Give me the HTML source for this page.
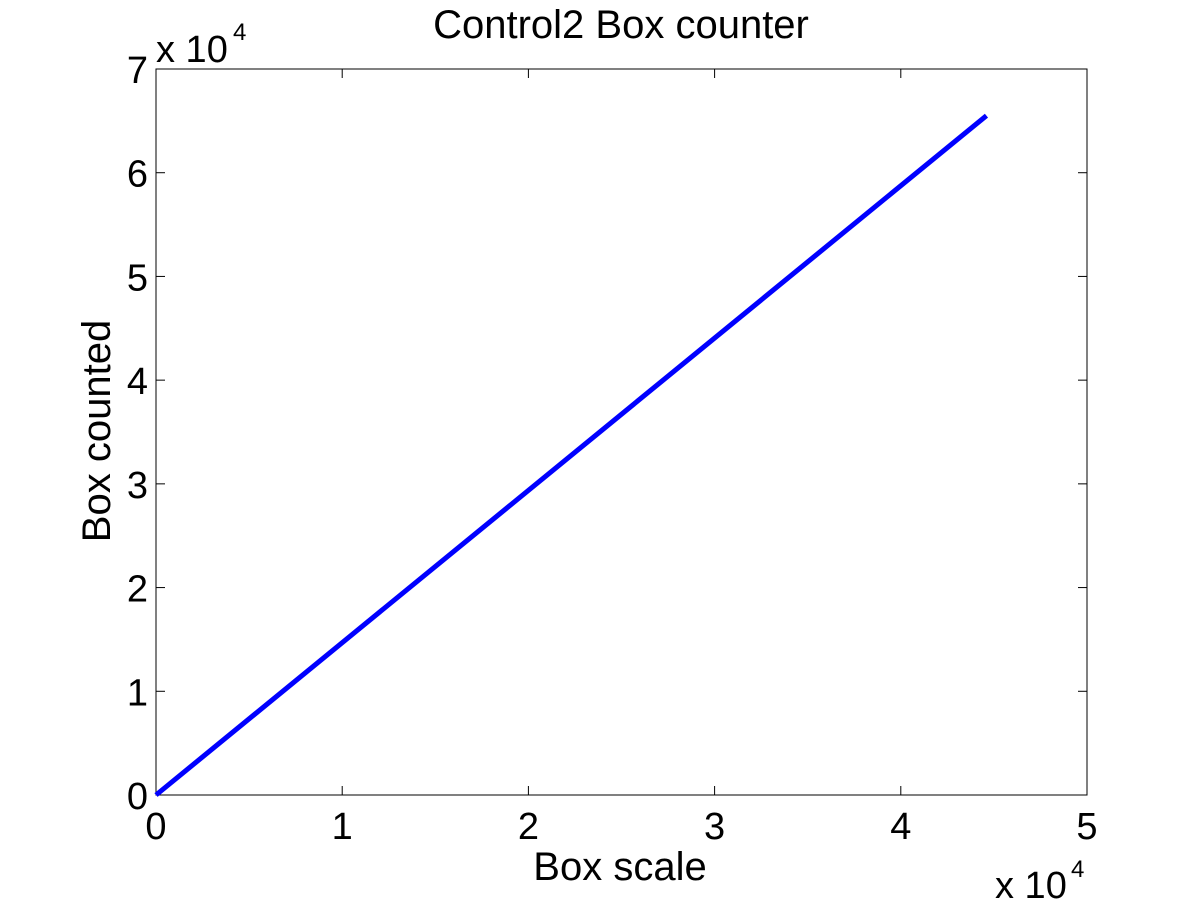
<!DOCTYPE html>
<html><head><meta charset="utf-8"><style>
body{margin:0;background:#fff}
svg text{font-family:"Liberation Sans",Arial,sans-serif;fill:#000}
</style></head><body>
<svg width="1201" height="901">
<rect x="0" y="0" width="1201" height="901" fill="#fff"/>
<g id="g"></g>
</svg>
<script>
const xTicks=[0,1,2,3,4,5];
const yTicks=[0,1,2,3,4,5,6,7];
const xVals=[0,4.46];
const yVals=[0,6.55];
const L=156,R=1087,T=69,B=795;
const sx=v=>L+(v-0)/(5-0)*(R-L);
const sy=v=>B-(v-0)/(7-0)*(B-T);
const g=document.getElementById('g');
const NS='http://www.w3.org/2000/svg';
function mk(t,a,txt){const e=document.createElementNS(NS,t);for(const k in a)e.setAttribute(k,a[k]);if(txt!==undefined)e.textContent=txt;g.appendChild(e);return e;}
let box=mk('rect',{x:L,y:T,width:R-L,height:B-T,fill:'none',stroke:'#000','stroke-width':1});


xTicks.forEach(v=>{const x=sx(v);
 let t1=mk('line',{x1:x,y1:B,x2:x,y2:B-9,stroke:'#000'});
 let t2=mk('line',{x1:x,y1:T,x2:x,y2:T+9,stroke:'#000'});
 let l=mk('text',{x:x,y:B+44,'font-size':38,'text-anchor':'middle'},String(v));});
yTicks.forEach(v=>{const y=sy(v);
 let t1=mk('line',{x1:L,y1:y,x2:L+9,y2:y,stroke:'#000'});
 let t2=mk('line',{x1:R,y1:y,x2:R-9,y2:y,stroke:'#000'});
 let l=mk('text',{x:L-8,y:y+14,'font-size':38,'text-anchor':'end'},String(v));});
let pts=xVals.map((v,i)=>sx(v)+','+sy(yVals[i])).join(' ');
let line=mk('polyline',{points:pts,fill:'none',stroke:'#0000ff','stroke-width':5,'stroke-linecap':'butt'});


let ti=mk('text',{x:621,y:38,'font-size':40,'text-anchor':'middle'},'Control2 Box counter');
let xl=mk('text',{x:620,y:880,'font-size':40,'text-anchor':'middle'},'Box scale');
let yl=mk('text',{x:0,y:0,'font-size':40,'text-anchor':'middle',transform:'translate(110,431) rotate(-90)'},'Box counted');
let ye=mk('text',{x:156,y:62,'font-size':38},'x 10');
let ye2=mk('text',{x:233,y:40,'font-size':24},'4');
let xe=mk('text',{x:995,y:898,'font-size':38},'x 10');
let xe2=mk('text',{x:1071,y:877,'font-size':24},'4');
</script>
</body></html>
